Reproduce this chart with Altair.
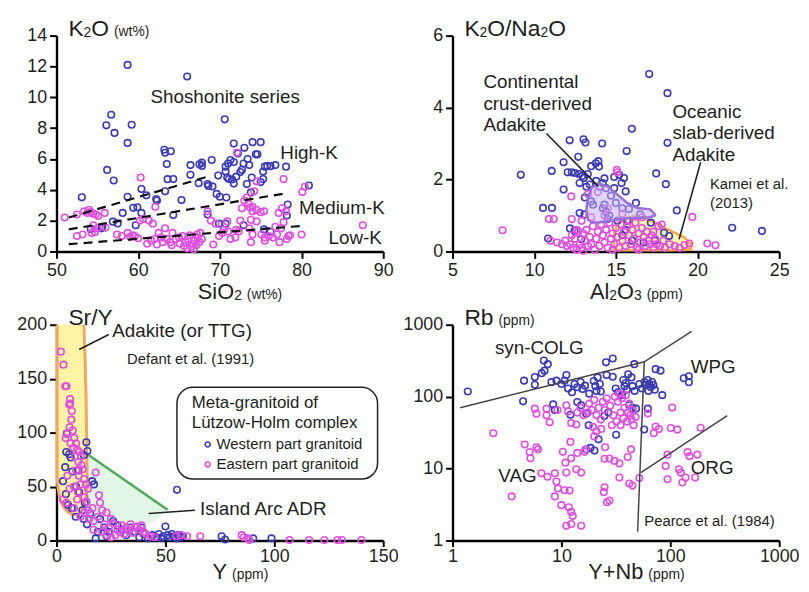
import altair as alt
import pandas as pd

FONT = "Liberation Sans"
BLUE = "#3b3bb5"
MAG = "#e04fe0"
INK = "#1e1e1e"
W, H = 330, 218

# ---------------- Panel 1 : SiO2 vs K2O ----------------
p1_west = [(58.7,12.1),(66.0,11.35),(56.7,8.87),(56.1,8.18),(57.1,7.69),(59.2,8.22),(58.7,7.04),(70.6,8.57),
           (56.2,5.29),(57.0,4.6),(53.1,3.51),(58.7,3.55),(60.4,4.05),(63.2,6.6),(63.3,6.4),(64.0,6.5),(63.5,5.67),
           (63.6,4.69),(64.3,4.7),(63.3,3.9),(62.2,3.4),(62.3,3.3),(61.0,3.64),(59.4,2.83),(59.9,2.87),(60.4,2.5),
           (59.7,1.7),(58.1,2.5),(56.9,1.93),(57.5,1.82),(55.5,1.5),(54.2,1.46),(64.3,2.36),(65.3,3.34),(66.4,4.97),
           (66.4,5.6),(67.5,5.65),(67.8,5.76),(67.8,5.55),(67.4,4.43),(68.5,4.37),(68.6,4.25),(69.0,5.93),(69.1,4.22),
           (69.6,3.73),(69.8,4.92),(70.0,3.55),(70.8,3.5),(70.7,5.5),(71.0,5.7),(71.3,5.93),(70.7,5.18),(70.9,4.8),
           (71.7,7.0),(73.0,6.72),(74.0,7.09),(75.0,7.09),(72.2,6.36),(74.4,6.3),(74.6,6.3),(71.7,5.8),(72.5,5.15),
           (72.9,5.7),(73.6,5.6),(73.4,6.0),(71.1,4.7),(71.5,4.67),(72.0,4.85),(71.7,4.4),(73.3,4.37),(73.8,3.83),
           (75.3,5.18),(75.3,4.7),(75.5,5.5),(75.8,5.55),(76.2,5.53),(76.8,5.6),(78.1,5.5),(78.3,3.04),(78.2,2.33),
           (80.9,4.28),(68.5,2.4),(69.9,1.8),(70.7,1.8),(72.9,1.7),(75.4,1.43),(76.2,1.28),(55.6,1.6),(75.0,4.5),
           (72.7,5.3),(73.9,4.8)]
p1_east = [(53.4,2.6),(53.8,2.5),(54.2,2.55),(54.5,2.45),(54.8,2.4),(55.1,2.3),(55.9,2.5),(54.0,2.7),(52.5,2.4),
           (51.0,2.2),(54.5,1.7),(54.3,1.2),(54.7,1.25),(55.0,1.5),(56.0,1.55),(52.5,1.0),(53.2,1.1),(57.4,1.1),
           (58.0,1.0),(58.7,1.2),(59.0,0.95),(59.3,1.05),(59.6,1.0),(60.0,0.85),(60.2,2.0),(60.6,2.1),(61.3,2.0),
           (61.8,1.8),(62.1,2.9),(60.3,4.8),(62.5,1.2),(62.8,0.9),(63.3,1.5),(63.5,0.8),(63.9,0.6),(64.2,1.2),
           (64.6,0.8),(65.0,0.9),(65.4,1.0),(65.8,0.6),(66.1,0.8),(66.5,0.3),(66.7,0.5),(66.9,0.7),(67.1,0.4),
           (67.3,0.9),(67.6,1.2),(67.8,0.8),(67.2,1.1),(66.3,1.05),(61.1,0.5),(61.6,0.7),(62.0,0.8),(64.1,0.4),
           (65.1,0.5),(69.2,0.45),(69.9,1.0),(70.5,1.4),(70.9,1.95),(71.3,0.8),(71.9,0.9),(72.3,1.3),(72.5,2.0),
           (72.1,6.4),(72.7,2.8),(73.0,3.3),(73.3,3.5),(73.5,3.1),(73.7,2.85),(74.0,2.9),(74.2,3.9),(74.5,4.55),
           (74.0,2.6),(74.5,2.7),(75.0,2.55),(75.4,2.6),(73.8,2.05),(74.5,1.95),(73.6,1.5),(74.0,1.1),(73.8,0.6),
           (75.1,1.1),(75.5,0.9),(75.5,0.7),(76.0,1.0),(76.5,0.9),(76.8,1.6),(77.0,1.1),(77.3,0.6),(77.5,1.5),
           (77.8,1.9),(77.2,2.5),(77.6,2.8),(77.8,4.7),(78.1,2.6),(78.4,1.0),(78.6,1.05),(78.2,0.8),(80.0,1.1),
           (80.1,3.85),(80.4,4.2),(87.5,1.7),(69.5,1.8),(70.3,1.2),(68.5,2.6),(68.9,2.0),(71.0,1.3),(72.0,1.4),
           (66.0,0.2),(66.8,0.15),(67.5,0.6),(65.6,0.35),(63.0,0.6),(62.3,0.45)]
p1_bounds = [[(51.5,2.2),(68.5,4.85)], [(51.5,1.43),(78.3,3.79)], [(51.5,0.47),(79.9,1.65)]]

# ---------------- Panel 2 : Al2O3 vs K2O/Na2O ----------------
p2_west = [(17.04,4.93),(18.16,4.40),(15.98,3.41),(13.02,3.12),(13.14,3.03),(12.17,3.09),(14.16,3.0),(15.66,2.79),
           (18.16,3.02),(12.7,2.63),(9.18,2.13),(11.07,2.24),(11.8,2.48),(12.05,2.2),(12.3,2.2),(12.5,2.18),
           (12.75,2.15),(12.95,2.1),(12.78,1.9),(13.04,2.04),(13.28,2.15),(13.49,2.37),(13.77,2.45),(13.93,2.51),
           (13.97,2.36),(13.2,1.8),(13.4,1.86),(13.8,1.96),(14.0,1.8),(14.2,1.9),(14.4,1.76),(14.3,2.03),(14.9,2.07),
           (15.2,2.13),(15.5,2.04),(15.35,1.9),(15.6,1.67),(14.9,1.76),(14.7,1.55),(11.8,1.72),(17.47,2.17),
           (18.06,1.87),(18.73,1.14),(22.12,0.66),(23.94,0.57),(10.54,1.21),(11.09,1.21),(10.85,0.36),(12.78,1.07),
           (13.08,1.03),(13.49,1.39),(13.6,1.3),(14.2,1.2),(14.4,1.1),(14.6,1.0),(14.3,1.3),(15.0,1.35),(15.4,1.2),
           (15.8,1.18),(16.23,1.35),(16.49,1.03),(17.14,0.80),(17.95,0.52),(18.26,0.43),(12.19,0.64),(12.47,0.57),
           (12.88,0.34),(15.6,0.6),(15.4,0.45),(16.0,0.3),(16.7,0.25),(17.4,0.3),(14.5,0.9),(13.1,1.5),(15.1,0.85),
           (15.7,0.85)]
p2_east = [(8.07,0.59),(10.9,0.9),(11.2,0.9),(12.27,1.53),(13.3,1.6),(15.05,2.27),(15.1,2.2),(19.68,0.96),(20.6,0.22),
           (21.1,0.17),(11.4,0.25),(11.7,0.2),(11.9,0.3),(12.0,0.15),(12.2,0.2),(12.3,0.45),(12.4,0.1),(12.5,0.35),
           (12.6,0.6),(12.7,0.55),(12.8,0.2),(12.9,0.1),(13.0,0.5),(13.1,0.3),(13.2,0.6),(13.3,0.15),(13.4,0.4),
           (13.5,0.2),(13.6,0.7),(13.7,0.05),(13.8,0.35),(13.9,0.55),(14.0,0.15),(14.1,0.75),(14.2,0.45),(14.3,0.25),
           (14.4,0.6),(14.5,0.1),(14.6,0.8),(14.7,0.35),(14.8,0.5),(14.9,0.2),(15.0,0.65),(15.1,0.4),(15.2,0.1),
           (15.3,0.75),(15.4,0.3),(15.5,0.55),(15.6,0.15),(15.7,0.7),(15.8,0.45),(15.9,0.2),(16.0,0.6),(16.1,0.35),
           (16.2,0.8),(16.3,0.1),(16.4,0.5),(16.5,0.25),(16.6,0.65),(16.7,0.4),(16.8,0.15),(16.9,0.55),(17.0,0.3),
           (17.1,0.2),(17.2,0.45),(17.3,0.1),(17.4,0.35),(17.5,0.2),(17.6,0.7),(17.7,0.15),(17.8,0.75),(17.9,0.3),
           (18.0,0.1),(18.3,0.2),(18.6,0.15),(18.9,0.1),(19.2,0.18),(19.5,0.22),(12.3,0.9),(12.9,0.85),(13.5,0.95),
           (14.3,1.0),(15.4,1.05),(16.6,0.95),(13.9,1.65),(14.5,1.2),(15.8,0.85),(17.3,0.55),(12.6,0.05),(14.8,0.05),
           (16.4,0.05),(11.0,0.3),(13.0,0.02)]
# continental crust-derived adakite field (x, top, bottom)
p2_cont_x = [13.2, 13.3, 13.5, 13.9, 14.5, 15.1, 15.7, 16.3, 17.1, 17.4]
p2_cont_top = [1.2, 1.5, 1.76, 1.90, 1.81, 1.58, 1.35, 1.21, 1.17, 1.03]
p2_cont_bot = [1.0, 0.88, 0.82, 0.80, 0.84, 0.89, 0.92, 0.93, 0.95, 1.0]
# oceanic slab-derived adakite field
p2_ocean_x = [14.85, 14.9, 15.1, 15.6, 16.1, 16.7, 17.2, 18.2, 19.2, 19.6]
p2_ocean_top = [0.05, 0.5, 0.78, 0.92, 0.98, 0.93, 0.84, 0.61, 0.39, 0.2]
p2_ocean_bot = [0.03, 0.03, 0.03, 0.03, 0.03, 0.03, 0.03, 0.03, 0.04, 0.06]
p2_leaders = [[(10.75,3.28),(13.93,1.81)], [(20.19,2.48),(18.87,0.34)]]

# ---------------- Panel 3 : Y vs Sr/Y ----------------
p3_west = [(4.7,99),(5.8,80),(4.5,82),(6.5,77),(13.7,91),(14.2,83),(12.6,79),(10.0,65),(7.3,64),(4.0,68),(16.4,55),
           (17.2,52),(55.3,47),(10.4,45),(4.3,43),(5.3,33),(8.8,22),(11.9,28),(12.5,20),(14.0,15),(15.5,25),(18.0,2),
           (20,20),(22,12),(24,8),(26,18),(28,14),(30,10),(32,5),(34,12),(36,8),(38,3),(39,12),(40,6),(42,2),(44,5),
           (46,3),(47,6),(48,2),(49,4),(50,13),(51,5),(52,3),(53,6),(54,4),(55,2),(56,5),(57,3),(58,4),(75.8,4),
           (77.4,1),(90.3,2),(98.7,2),(19,8),(23,4),(13,35),(7,30),(9,50),(3,55)]
p3_east = [(2.0,175),(3.2,163),(4.0,143),(4.6,143),(6.2,131),(5.8,126),(7.0,120),(6.3,127),(6.8,112),(6.0,105),(5.0,99),
           (4.2,95),(7.5,102),(8.2,95),(9.0,90),(6.5,90),(7.8,86),(9.5,84),(10.5,82),(11.2,78),(8.5,78),(10.0,73),
           (11.5,70),(12.0,66),(9.0,65),(10.2,60),(12.8,57),(13.5,52),(14.5,48),(11.0,52),(8.0,50),(6.0,48),(3.0,38),
           (4.5,35),(9.5,38),(12.8,40),(13.8,36),(19.5,42),(18.0,63),(16.5,30),(14.5,28),(13.0,26),(11.0,22),(15.0,20),
           (17.0,18),(19.0,22),(21.0,28),(23.0,26),(25.0,20),(22.0,15),(24.0,12),(26.0,16),(28.0,10),(30.0,14),
           (32.0,12),(34.0,15),(36.0,12),(38.0,10),(40.0,8),(27.0,5),(29.0,8),(31.0,6),(33.0,9),(35.0,7),(37.0,13),
           (39.0,14),(21.0,8),(23.0,5),(25.0,3),(41.0,6),(43.0,4),(45.0,3),(55.0,4),(57.0,5),(60.0,4),(66.0,4),
           (85.0,5),(86.0,3),(88.0,2),(88.5,0.5),(107,0.5),(116,0.5),(123,0.5),(129,0.5),(131,0.5),(140,0.5),
           (20,35),(17,10),(8,30),(5,60),(9.8,45)]
# adakite (TTG) field
p3_ada_x = [0.3, 0.6, 1.2, 2.2, 3.5, 5.5, 8.0, 10.5, 12.0, 12.6, 13.2, 13.6, 13.8, 14.0, 14.1]
p3_ada_top = [200, 200, 200, 200, 200, 200, 200, 200, 200, 200, 165, 130, 100, 70, 48]
p3_ada_bot = [60, 50, 42, 35, 30, 26, 23.5, 25, 29, 32, 36, 40, 44, 47, 48]
# island arc ADR field
p3_arc_x = [14.0, 14.2, 17, 25, 35, 45, 51]
p3_arc_top = [80, 80, 76, 65, 51, 37, 28.5]
p3_arc_bot = [15, 10, 2, 3, 8, 18, 28.5]
p3_leaders = [[(24,191),(10.4,177)], [(63.6,28),(42.3,25)]]

# ---------------- Panel 4 : Y+Nb vs Rb ----------------
p4_west = [(1.38,118),(4.45,86),(4.54,167),(5.7,187),(5.7,146),(6.9,317),(7.5,283),(7.0,230),(6.6,212),(8.1,159),
           (9.0,167),(10.0,150),(10.7,167),(11.1,200),(8.4,78),(8.7,65),(12.1,56),(13.2,150),(14.0,135),(15.0,160),
           (15.6,128),(16.5,142),(14.0,84),(15.2,76),(16.9,58),(17.8,40),(18.5,19.4),(16.9,18.4),(20.1,17.8),
           (21.9,25.5),(19.8,165),(20.5,140),(21.5,185),(21.0,120),(23.0,118),(22.5,150),(25.7,300),(29.6,339),
           (29.6,189),(31.5,130),(33.0,115),(24.8,54),(31.8,29.5),(37,170),(39,155),(40,125),(41,205),(44,185),
           (46.7,283),(42,76),(44.9,70),(48.4,68),(36,105),(38,140),(45,140),(47,120),(52,150),(55,130),(58,160),
           (60,145),(62,170),(64,150),(66,135),(68,160),(70,145),(72,125),(63,120),(57.6,35),(62.2,68),(73.3,241),
           (81.3,230),(84.3,105),(133,180),(148,192),(148,159),(27,60),(11.5,130),(12.5,115),(26,200),(18,110)]
p4_east = [(2.37,31),(4.6,21.6),(5.9,19.8),(5.1,17),(6.1,18.5),(5.2,13.9),(6.55,8.6),(7.45,7.7),(3.49,4.1),(8.7,8.6),
           (9.0,6.6),(9.3,5.3),(8.7,4.1),(10,3.1),(10.3,17.1),(10.9,12.1),(11.1,8.8),(10.7,5.0),(11.9,4.95),(11.1,1.6),
           (12.3,1.7),(11.7,2.9),(12.3,2.5),(12.7,2.2),(15.2,1.6),(13.7,9.8),(14.0,16.5),(15.2,8.8),(16.3,17.1),
           (16.6,18.4),(12.3,13.9),(12.1,23.5),(5.7,68),(5.9,58),(7.3,68),(7.3,55),(7.8,44),(9.2,65),(11.1,76),
           (11.5,62),(12.3,43),(13.7,41),(18,80),(19,65),(20,90),(21,55),(22,70),(23,48),(24,85),(19.5,38),(17.5,60),
           (25,65),(26,95),(28,75),(30,55),(31,100),(32,45),(33,85),(34,110),(35,60),(36,95),(37,50),(38,70),(39,105),
           (40,45),(41,60),(42,80),(43,55),(44,48),(45,65),(46,40),(48,52),(35,40),(29,40),(23.2,35.6),(25.2,19.8),
           (24.9,13.7),(27.6,13.8),(30.7,12.8),(34.1,11.8),(24.9,5.5),(24.5,4.7),(26.2,3.4),(27.6,3.6),(34.1,7.5),
           (42,6.2),(44.9,5.8),(51.9,7.4),(43.6,18.5),(40.6,14.5),(62.2,58.5),(73.3,38.5),(78.6,35.4),(70.5,31),
           (104,70.5),(101,36.6),(116,34.8),(190,37),(94.2,15.6),(90.6,10.9),(94.2,7.1),(120,9.8),(125,8.8),(129,6.4),
           (138,7.5),(144,16.9),(150,14.9),(177,15.6),(169,7.5),(20,28),(21,33),(16,55),(15,70),(14,60)]
p4_bounds = [[(1.175,70),(57.6,305),(157,811)], [(57.6,305),(50.1,1.33)], [(53.7,8.81),(333,54.4)]]

# ---------------- helpers ----------------
CW = {' ':278,'(':333,')':333,'%':889,'/':278,'+':584,'-':333,'.':278,
      'A':667,'K':667,'N':722,'O':778,'R':722,'S':667,'Y':667,
      'a':556,'b':556,'i':222,'l':222,'m':833,'n':556,'o':556,'p':556,'r':333,'t':278,'w':722}

def tw(s, size):
    return sum(CW.get(c, 556) for c in s) / 1000.0 * size

ONE = pd.DataFrame({"a": [0]})

def ptext(text, px, py, size):
    return alt.Chart(ONE).mark_text(text=text, font=FONT, fontSize=size, color=INK,
                                    align="left", baseline="alphabetic").encode(
        x=alt.value(px), y=alt.value(py))

def rich(segs, px, py):
    out, cur = [], px
    for text, size, dy, gap in segs:
        cur += gap
        out.append(ptext(text, cur, py + dy, size))
        cur += tw(text, size)
    return out

def ytitle(main, unit=None):
    segs = [(t, 23 if big else 14, 0 if big else 1, 0) for t, big in main]
    if unit:
        segs.append((unit, 14, 0, 5))
    return rich(segs, 12, 0)

def xtitle(main, unit, below=48):
    segs = [(t, 22 if big else 14, 0 if big else 1, 0) for t, big in main]
    wmain = sum(tw(t, s) for t, s, _, _ in segs)
    segs.append((unit, 14, 0, 5))
    return rich(segs, W / 2 - wmain / 2, H + below)

def make_axis(values, fmt=None, tick=7, pad=3):
    kw = dict(values=values, title=None, grid=False, domainColor="black", domainWidth=2.4,
              tickColor="black", tickWidth=2, tickSize=tick, labelFont=FONT, labelFontSize=18,
              labelColor=INK, labelPadding=pad, labelFlush=False, labelOverlap=False)
    if fmt:
        kw["format"] = fmt
    return alt.Axis(**kw)

class Panel:
    def __init__(self, xs, ys, xa, ya):
        self.xs, self.ys, self.xa, self.ya = xs, ys, xa, ya

    def X(self, f="x"):
        return alt.X(f + ":Q", scale=self.xs, axis=self.xa)

    def Y(self, f="y"):
        return alt.Y(f + ":Q", scale=self.ys, axis=self.ya)

    def pts(self, pairs, color, size=44):
        df = pd.DataFrame(pairs, columns=["x", "y"])
        return alt.Chart(df).mark_point(shape="circle", filled=False, size=size, strokeWidth=1.6,
                                        color=color, opacity=1).encode(x=self.X(), y=self.Y())

    def lines(self, groups, color, width, dash=None):
        rows = []
        for g, seg in enumerate(groups):
            for o, (x, y) in enumerate(seg):
                rows.append({"x": x, "y": y, "g": g, "o": o})
        kw = dict(color=color, strokeWidth=width)
        if dash:
            kw["strokeDash"] = dash
        return alt.Chart(pd.DataFrame(rows)).mark_line(**kw).encode(
            x=self.X(), y=self.Y(), detail="g:N", order="o:Q")

    def field(self, xv, top, bot, fill, opacity=1.0):
        df = pd.DataFrame({"x": xv, "y": top, "y2": bot})
        return alt.Chart(df).mark_area(color=fill, opacity=opacity).encode(
            x=self.X(), y=self.Y(), y2="y2:Q")

    def note(self, text, x, y, size=19):
        return alt.Chart(pd.DataFrame({"x": [x], "y": [y]})).mark_text(
            text=text, font=FONT, fontSize=size, color=INK, align="left", baseline="middle").encode(
            x=self.X(), y=self.Y())

def outline(xv, top, bot):
    path = list(zip(xv, top)) + list(zip(xv[::-1], bot[::-1]))
    path.append(path[0])
    return path

# ---------------- panel 1 ----------------
P1 = Panel(alt.Scale(domain=[50, 90], nice=False, zero=False),
           alt.Scale(domain=[0, 14], nice=False, zero=False),
           make_axis([50, 60, 70, 80, 90]), make_axis(list(range(0, 15, 2))))
panel1 = alt.layer(
    P1.pts(p1_west, BLUE),
    P1.pts(p1_east, MAG),
    P1.lines(p1_bounds, "#111", 2.2, [9, 6]),
    P1.note("Shoshonite series", 61.5, 10.0),
    P1.note("High-K", 77.4, 6.36),
    P1.note("Medium-K", 79.7, 2.83),
    P1.note("Low-K", 83.3, 0.86),
    *ytitle([("K", True), ("2", False), ("O", True)], "(wt%)"),
    *xtitle([("SiO", True), ("2", False)], "(wt%)"),
).properties(width=W, height=H)

# ---------------- panel 2 ----------------
P2 = Panel(alt.Scale(domain=[5, 25], nice=False, zero=False),
           alt.Scale(domain=[0, 6], nice=False, zero=False),
           make_axis([5, 10, 15, 20, 25]), make_axis([0, 2, 4, 6]))
panel2 = alt.layer(
    P2.field(p2_ocean_x, p2_ocean_top, p2_ocean_bot, "#fff3a0", 0.9),
    P2.lines([outline(p2_ocean_x, p2_ocean_top, p2_ocean_bot)], "#f2a54a", 2.5),
    P2.pts(p2_west, BLUE),
    P2.pts(p2_east, MAG),
    P2.field(p2_cont_x, p2_cont_top, p2_cont_bot, "#c4aef0", 0.55),
    P2.lines([outline(p2_cont_x, p2_cont_top, p2_cont_bot)], "#9a70d8", 2.5),
    P2.lines(p2_leaders, "#222", 1.6),
    P2.note("Continental", 6.89, 4.70),
    P2.note("crust-derived", 6.89, 4.10),
    P2.note("Adakite", 6.89, 3.50),
    P2.note("Oceanic", 18.46, 3.87),
    P2.note("slab-derived", 18.46, 3.28),
    P2.note("Adakite", 18.46, 2.68),
    P2.note("Kamei et al.", 20.76, 1.87, 15),
    P2.note("(2013)", 20.76, 1.35, 15),
    *ytitle([("K", True), ("2", False), ("O/Na", True), ("2", False), ("O", True)]),
    *xtitle([("Al", True), ("2", False), ("O", True), ("3", False)], "(ppm)"),
).properties(width=W, height=H)

# ---------------- panel 3 ----------------
P3 = Panel(alt.Scale(domain=[0, 150], nice=False, zero=False),
           alt.Scale(domain=[0, 200], nice=False, zero=False),
           make_axis([0, 50, 100, 150], tick=6, pad=1), make_axis([0, 50, 100, 150, 200]))
ada_path = ([(p3_ada_x[0], 200)] + list(zip(p3_ada_x, p3_ada_bot))
            + list(zip(p3_ada_x[9:], p3_ada_top[9:]))[::-1])
legend_box = alt.Chart(pd.DataFrame({"x": [55.3], "x2": [147.4], "y": [57], "y2": [142]})).mark_rect(
    cornerRadius=16, fill="white", stroke="#222", strokeWidth=1.5).encode(
    x=P3.X(), x2="x2:Q", y=P3.Y(), y2="y2:Q")
panel3 = alt.layer(
    P3.field(p3_ada_x, p3_ada_top, p3_ada_bot, "#fff3a6", 1.0),
    P3.field(p3_arc_x, p3_arc_top, p3_arc_bot, "#e2f6e6", 1.0),
    P3.lines([ada_path], "#f0a860", 3),
    P3.lines([[(14.2, 80), (51, 28.5)]], "#4caa58", 2.5),
    P3.pts(p3_west, BLUE),
    P3.pts(p3_east, MAG),
    P3.lines(p3_leaders, "#222", 1.6),
    P3.note("Adakite (or TTG)", 25.6, 194),
    P3.note("Defant et al. (1991)", 32.4, 168, 15),
    P3.note("Island Arc ADR", 65.9, 28.9),
    legend_box,
    P3.note("Meta-granitoid of", 62.1, 127, 17),
    P3.note("Lützow-Holm complex", 62.1, 108.7, 17),
    P3.pts([(69.4, 89)], BLUE, size=26),
    P3.pts([(69.4, 70.6)], MAG, size=26),
    P3.note("Western part granitoid", 73.5, 89, 15),
    P3.note("Eastern part granitoid", 73.5, 70.6, 15),
    *ytitle([("Sr/Y", True)]),
    *xtitle([("Y", True)], "(ppm)", 39),
).properties(width=W, height=H)

# ---------------- panel 4 ----------------
P4 = Panel(alt.Scale(type="log", domain=[1, 1000], nice=False),
           alt.Scale(type="log", domain=[1, 1000], nice=False),
           make_axis([1, 10, 100, 1000], "d", tick=6, pad=1), make_axis([1, 10, 100, 1000], "d"))
panel4 = alt.layer(
    P4.pts(p4_west, BLUE),
    P4.pts(p4_east, MAG),
    P4.lines(p4_bounds, "#444", 1.5),
    P4.note("syn-COLG", 2.45, 479),
    P4.note("WPG", 154, 255),
    P4.note("VAG", 2.63, 7.94),
    P4.note("ORG", 154, 10.3),
    P4.note("Pearce et al. (1984)", 57.6, 1.86, 15),
    *ytitle([("Rb", True)], "(ppm)"),
    *xtitle([("Y+Nb", True)], "(ppm)", 39),
).properties(width=W, height=H)

# fixed-size canvas (like the cropped original figure): plot origin at page (57, 33)
chart = alt.concat(panel1, panel2, panel3, panel4, columns=2).properties(
    spacing={"row": 74, "column": 70}, bounds="flush",
    autosize=alt.AutoSizeParams(type="none"),
    padding={"left": 49, "top": 25, "right": 752, "bottom": 551},
).configure_view(stroke=None)

chart.save("out.html", embed_options={"renderer": "svg", "actions": False})
